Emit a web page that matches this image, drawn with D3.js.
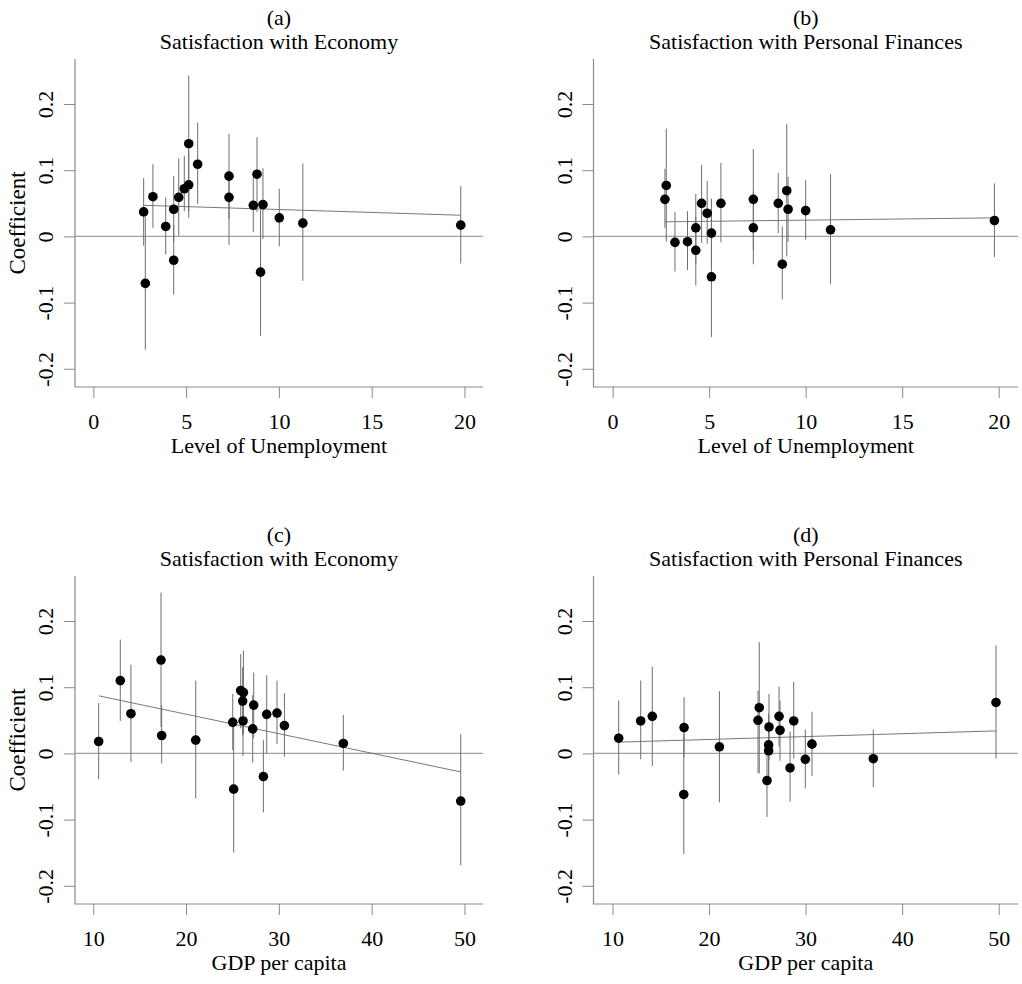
<!DOCTYPE html>
<html><head><meta charset="utf-8">
<script src="https://cdn.jsdelivr.net/npm/d3@7"></script>
<style>body{margin:0;background:#fff}svg{display:block}text{font-family:"Liberation Serif","Times New Roman",serif;fill:#000}</style>
</head><body>
<script>
// ---- Panel (a): Satisfaction with Economy vs Level of Unemployment
const unempA = [2.71,2.80,3.21,3.90,4.33,4.33,4.60,4.90,5.14,5.14,5.62,7.31,7.31,8.62,8.82,9.01,9.14,10.02,11.29,19.80];
const coefA  = [0.037,-0.071,0.060,0.015,0.041,-0.036,0.059,0.072,0.078,0.140,0.109,0.091,0.059,0.047,0.094,-0.054,0.048,0.028,0.020,0.017];
const loA    = [-0.014,-0.171,0.013,-0.027,-0.009,-0.088,0.001,0.038,0.028,0.038,0.049,0.027,-0.013,0.006,0.037,-0.150,-0.004,-0.015,-0.067,-0.041];
const hiA    = [0.088,0.030,0.109,0.059,0.091,0.017,0.118,0.122,0.129,0.243,0.172,0.155,0.090,0.090,0.150,0.043,0.103,0.072,0.110,0.076];
const fitA   = [[2.71,0.047],[19.80,0.032]];

// ---- Panel (b): Satisfaction with Personal Finances vs Level of Unemployment
const unempB = [2.71,2.78,3.23,3.88,4.31,4.31,4.61,4.90,5.12,5.12,5.61,7.29,7.29,8.58,8.79,9.02,9.09,10.00,11.29,19.78];
const coefB  = [0.056,0.077,-0.009,-0.008,-0.021,0.013,0.050,0.035,0.005,-0.061,0.050,0.056,0.013,0.050,-0.042,0.069,0.041,0.039,0.010,0.024];
const loB    = [0.013,-0.008,-0.053,-0.051,-0.074,-0.040,-0.010,-0.011,-0.048,-0.152,-0.009,-0.020,-0.042,0.005,-0.095,-0.030,-0.008,-0.005,-0.072,-0.031];
const hiB    = [0.102,0.163,0.037,0.038,0.030,0.064,0.108,0.084,0.057,0.030,0.111,0.132,0.068,0.096,0.015,0.170,0.090,0.085,0.094,0.080];
const fitB   = [[2.71,0.022],[19.78,0.028]];

// ---- Panel (c): Satisfaction with Economy vs GDP per capita
const gdpC  = [10.58,12.91,14.06,17.30,17.37,21.04,25.03,25.13,25.89,26.18,26.10,26.14,27.29,27.18,28.33,28.69,29.80,30.60,36.95,49.60];
const coefC = [0.018,0.110,0.060,0.141,0.027,0.020,0.047,-0.054,0.095,0.092,0.079,0.049,0.073,0.037,-0.035,0.059,0.061,0.042,0.015,-0.072];
const loC   = [-0.039,0.049,-0.013,0.040,-0.015,-0.068,0.005,-0.150,0.038,0.030,0.027,-0.004,0.023,-0.014,-0.089,0.000,0.014,-0.005,-0.026,-0.169];
const hiC   = [0.076,0.172,0.134,0.243,0.073,0.110,0.090,0.042,0.150,0.155,0.130,0.090,0.122,0.088,0.020,0.118,0.110,0.091,0.058,0.029];
const fitC  = [[10.58,0.087],[49.60,-0.028]];

// ---- Panel (d): Satisfaction with Personal Finances vs GDP per capita
const gdpD  = [10.64,12.92,14.12,17.41,17.38,21.07,25.20,25.07,26.21,26.17,26.17,26.00,27.25,27.35,28.39,28.77,29.97,30.66,37.01,49.72];
const coefD = [0.023,0.049,0.056,0.039,-0.062,0.010,0.069,0.050,0.040,0.013,0.004,-0.041,0.056,0.035,-0.022,0.049,-0.009,0.014,-0.008,0.077];
const loD   = [-0.032,-0.009,-0.019,-0.006,-0.152,-0.074,-0.030,-0.030,-0.010,-0.035,-0.045,-0.096,0.010,-0.011,-0.073,-0.008,-0.053,-0.034,-0.051,-0.008];
const hiD   = [0.080,0.110,0.131,0.085,0.030,0.094,0.168,0.095,0.090,0.060,0.050,0.015,0.101,0.080,0.033,0.108,0.036,0.063,0.036,0.163];
const fitD  = [[10.64,0.017],[49.72,0.034]];

const yTicks = [-0.2,-0.1,0,0.1,0.2];
const yTickLabels = ["-0.2","-0.1","0","0.1","0.2"];
const unempTicks = [0,5,10,15,20];
const gdpTicks = [10,20,30,40,50];

const W = 1022, H = 984;
const svg = d3.select("body").append("svg").attr("width", W).attr("height", H);

const panels = [
  {tag:"(a)", title:"Satisfaction with Economy", xlab:"Level of Unemployment", x:unempA, y:coefA, lo:loA, hi:hiA, fit:fitA,
   left:75, right:483, top:59, bottom:387, xdom:[-0.99,21.0], xt:unempTicks, ylab:true},
  {tag:"(b)", title:"Satisfaction with Personal Finances", xlab:"Level of Unemployment", x:unempB, y:coefB, lo:loB, hi:hiB, fit:fitB,
   left:593.5, right:1018, top:59, bottom:387, xdom:[-0.99,21.0], xt:unempTicks, ylab:false},
  {tag:"(c)", title:"Satisfaction with Economy", xlab:"GDP per capita", x:gdpC, y:coefC, lo:loC, hi:hiC, fit:fitC,
   left:75, right:483, top:576, bottom:904, xdom:[8.03,52.0], xt:gdpTicks, ylab:true},
  {tag:"(d)", title:"Satisfaction with Personal Finances", xlab:"GDP per capita", x:gdpD, y:coefD, lo:loD, hi:hiD, fit:fitD,
   left:593.5, right:1018, top:576, bottom:904, xdom:[8.03,52.0], xt:gdpTicks, ylab:false}
];

panels.forEach(p => {
  const g = svg.append("g");
  const xs = d3.scaleLinear().domain(p.xdom).range([p.left, p.right]);
  const ys = d3.scaleLinear().domain([-0.2275, 0.268]).range([p.bottom, p.top]);
  const cx = (p.left + p.right) / 2;

  // titles
  g.append("text").attr("x", cx).attr("y", p.top - 34).attr("text-anchor","middle").attr("font-size", 22).text(p.tag);
  g.append("text").attr("x", cx).attr("y", p.top - 10).attr("text-anchor","middle").attr("font-size", 22).text(p.title);

  // L-shaped frame
  g.append("path").attr("d", `M${p.left},${p.top}V${p.bottom}H${p.right}`)
    .attr("fill","none").attr("stroke","#8a8a8a").attr("stroke-width",1.2);

  // x axis
  const xa = g.append("g").attr("transform", `translate(0,${p.bottom})`)
    .call(d3.axisBottom(xs).tickValues(p.xt).tickSize(11).tickPadding(15).tickFormat(d3.format("d")));
  xa.select(".domain").remove();
  xa.selectAll("line").attr("stroke","#8a8a8a");
  xa.selectAll("text").attr("font-size",22).attr("font-family","Liberation Serif");

  // y axis
  const ya = g.append("g").attr("transform", `translate(${p.left},0)`)
    .call(d3.axisLeft(ys).tickValues(yTicks).tickSize(11).tickFormat((d,i) => yTickLabels[i]));
  ya.select(".domain").remove();
  ya.selectAll("line").attr("stroke","#8a8a8a");
  ya.selectAll("text").remove();
  ya.selectAll(".tick").append("text")
    .attr("transform","translate(-22,0) rotate(-90)")
    .attr("text-anchor","middle").attr("font-size",22).attr("font-family","Liberation Serif")
    .text((d,i) => yTickLabels[i]);

  // x axis label
  g.append("text").attr("x", cx).attr("y", p.bottom + 66).attr("text-anchor","middle").attr("font-size",22).text(p.xlab);
  if (p.ylab) {
    g.append("text").attr("transform", `translate(${p.left - 50},${(p.top + p.bottom)/2}) rotate(-90)`)
      .attr("text-anchor","middle").attr("font-size",23).text("Coefficient");
  }

  // zero line
  g.append("line").attr("x1", p.left).attr("x2", p.right).attr("y1", ys(0)).attr("y2", ys(0))
    .attr("stroke","#a0a0a0").attr("stroke-width",1.3);

  const idx = d3.range(p.x.length);
  // error bars
  g.selectAll("line.err").data(idx).join("line").attr("class","err")
    .attr("x1", i => xs(p.x[i])).attr("x2", i => xs(p.x[i]))
    .attr("y1", i => ys(p.lo[i])).attr("y2", i => ys(p.hi[i]))
    .attr("stroke","#6e6e6e").attr("stroke-width",1);

  // fitted line
  g.append("line").attr("x1", xs(p.fit[0][0])).attr("y1", ys(p.fit[0][1]))
    .attr("x2", xs(p.fit[1][0])).attr("y2", ys(p.fit[1][1]))
    .attr("stroke","#6a6a6a").attr("stroke-width",0.9);

  // points
  g.selectAll("circle").data(idx).join("circle")
    .attr("cx", i => xs(p.x[i])).attr("cy", i => ys(p.y[i])).attr("r", 4.8).attr("fill","#000");
});
</script>
</body></html>
